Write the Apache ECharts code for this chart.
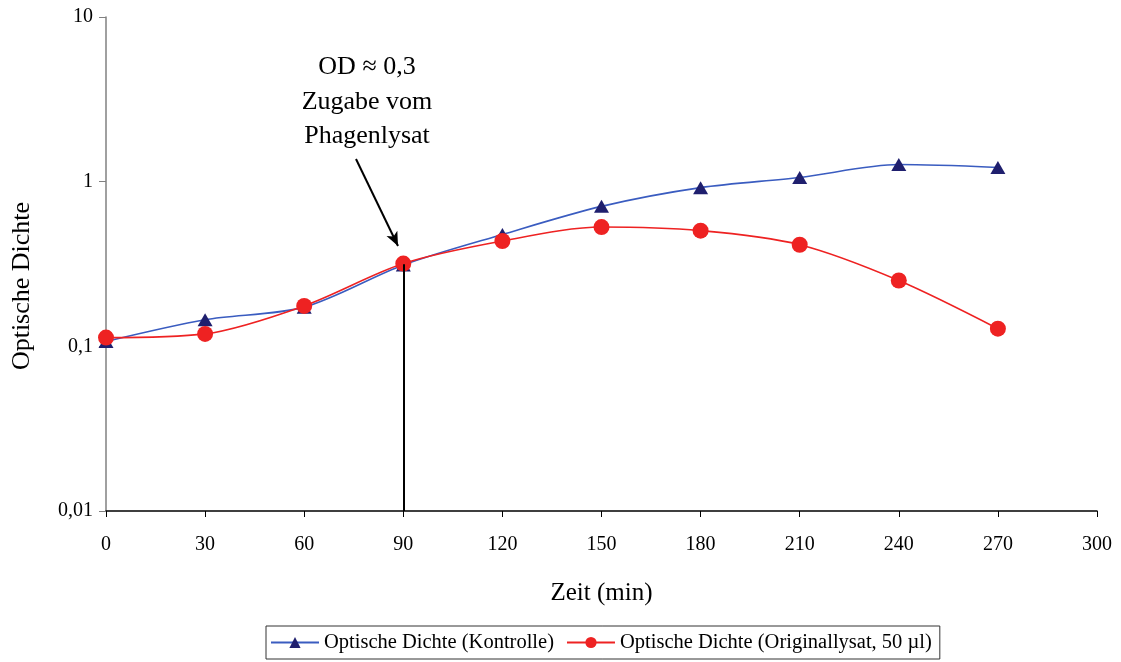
<!DOCTYPE html>
<html>
<head>
<meta charset="utf-8">
<script src="https://cdn.jsdelivr.net/npm/echarts@6/dist/echarts.min.js"></script>
<style>
html,body{margin:0;padding:0;background:#fff;}
#chart{width:1121px;height:662px;}
</style>
</head>
<body>
<div id="chart"></div>
<script>
var times = [0, 30, 60, 90, 120, 150, 180, 210, 240, 270];
var kontrolle = [0.107, 0.145, 0.173, 0.312, 0.478, 0.708, 0.92, 1.06, 1.27, 1.22];
var originallysat = [0.113, 0.119, 0.176, 0.318, 0.436, 0.530, 0.504, 0.414, 0.251, 0.128];
var xTicks = [0, 30, 60, 90, 120, 150, 180, 210, 240, 270, 300];
var yTicks = [0.01, 0.1, 1, 10];
var seriesNames = ['Optische Dichte (Kontrolle)', 'Optische Dichte (Originallysat, 50 \u00b5l)'];
var phageTime = 90;
var phageOD = 0.315;
var annotationLines = ['OD \u2248 0,3', 'Zugabe vom', 'Phagenlysat'];

var FONT = '"Liberation Serif", "Times New Roman", serif';

function pairs(xs, ys) { return xs.map(function (x, i) { return [x, ys[i]]; }); }

var chart = echarts.init(document.getElementById('chart'));
chart.setOption({
  animation: false,
  backgroundColor: '#ffffff',
  textStyle: { fontFamily: FONT, color: '#000' },
  grid: { left: 106, right: 24, top: 17, bottom: 151, containLabel: false },
  legend: {
    bottom: 3,
    left: 266,
    itemWidth: 48,
    itemHeight: 14,
    itemGap: 12,
    padding: [6, 8, 6, 4],
    borderColor: '#333',
    borderWidth: 1,
    borderRadius: 0,
    textStyle: { fontFamily: FONT, fontSize: 20.5, color: '#000' },
    data: seriesNames
  },
  xAxis: {
    type: 'value',
    min: 0,
    max: 300,
    interval: 30,
    name: 'Zeit (min)',
    nameLocation: 'middle',
    nameGap: 70,
    nameTextStyle: { fontFamily: FONT, fontSize: 25, color: '#000' },
    axisLine: { show: true, lineStyle: { color: '#000', width: 1.5 } },
    axisTick: { show: true, inside: false, length: 6, lineStyle: { color: '#000' } },
    axisLabel: { fontFamily: FONT, fontSize: 20, color: '#000', margin: 24,
      formatter: function (v) { return xTicks.indexOf(v) >= 0 ? String(v) : ''; } },
    splitLine: { show: false }
  },
  yAxis: {
    type: 'log',
    logBase: 10,
    min: yTicks[0],
    max: yTicks[yTicks.length - 1],
    axisLine: { show: true, lineStyle: { color: '#808080', width: 1.5 } },
    axisTick: { show: true, inside: false, length: 7, lineStyle: { color: '#808080' } },
    axisLabel: { fontFamily: FONT, fontSize: 20, color: '#000', margin: 13,
      formatter: function (v) { return String(+v.toPrecision(6)).replace('.', ','); } },
    splitLine: { show: false },
    minorTick: { show: false }
  },
  graphic: [
    {
      type: 'text',
      x: 22, y: 286,
      rotation: Math.PI / 2,
      style: { text: 'Optische Dichte', fontFamily: FONT, fontSize: 26, fill: '#000', align: 'center', verticalAlign: 'middle' }
    },
    {
      type: 'text',
      x: 367, y: 67,
      style: { text: annotationLines[0], fontFamily: FONT, fontSize: 26, fill: '#000', align: 'center', verticalAlign: 'middle' }
    },
    {
      type: 'text',
      x: 367, y: 102,
      style: { text: annotationLines[1], fontFamily: FONT, fontSize: 26, fill: '#000', align: 'center', verticalAlign: 'middle' }
    },
    {
      type: 'text',
      x: 367, y: 136,
      style: { text: annotationLines[2], fontFamily: FONT, fontSize: 26, fill: '#000', align: 'center', verticalAlign: 'middle' }
    }
  ],
  series: [
    {
      name: seriesNames[0],
      type: 'line',
      data: pairs(times, kontrolle),
      smooth: 0.3,
      symbol: 'triangle',
      symbolSize: [15, 13],
      itemStyle: { color: '#1F1F6E' },
      lineStyle: { color: '#3A5CC0', width: 1.6 },
      z: 2
    },
    {
      name: seriesNames[1],
      type: 'line',
      data: pairs(times, originallysat),
      smooth: 0.3,
      symbol: 'circle',
      symbolSize: 16,
      itemStyle: { color: '#EE2222' },
      lineStyle: { color: '#EE2222', width: 1.6 },
      z: 3,
      markLine: {
        silent: true,
        animation: false,
        label: { show: false },
        lineStyle: { color: '#000', width: 2, type: 'solid' },
        data: [
          [
            { coord: [phageTime, phageOD], symbol: 'none' },
            { coord: [phageTime, yTicks[0]], symbol: 'none' }
          ],
          [
            { x: 356, y: 159, symbol: 'none' },
            { x: 398, y: 246, symbol: 'arrow', symbolSize: [9, 14] }
          ]
        ]
      }
    }
  ]
});
</script>
</body>
</html>
